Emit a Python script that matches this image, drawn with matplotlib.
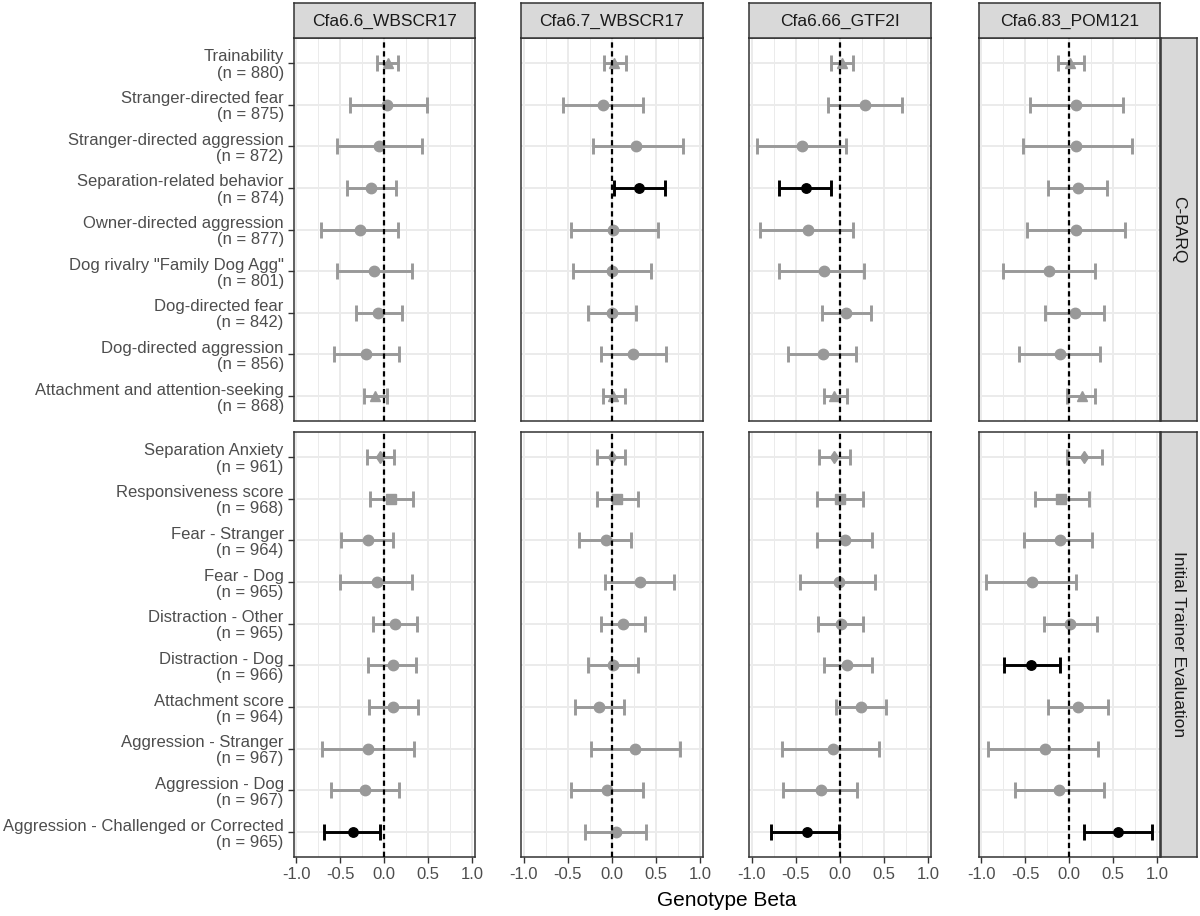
import matplotlib
matplotlib.use("Agg")
import matplotlib.pyplot as plt

plt.rcParams['font.family'] = ['Liberation Sans', 'DejaVu Sans']

loci = ['Cfa6.6_WBSCR17', 'Cfa6.7_WBSCR17', 'Cfa6.66_GTF2I', 'Cfa6.83_POM121']
groups = ['C-BARQ', 'Initial Trainer Evaluation']

# C-BARQ traits
cbarq_traits = ['Trainability', 'Stranger-directed fear', 'Stranger-directed aggression',
                'Separation-related behavior', 'Owner-directed aggression',
                'Dog rivalry "Family Dog Agg"', 'Dog-directed fear',
                'Dog-directed aggression', 'Attachment and attention-seeking']
cbarq_n = [880, 875, 872, 874, 877, 801, 842, 856, 868]
cbarq_marker = ['^', 'o', 'o', 'o', 'o', 'o', 'o', 'o', '^']

# one list per locus
cbarq_beta = [
    [0.04, 0.03, -0.06, -0.15, -0.28, -0.12, -0.07, -0.21, -0.11],
    [0.03, -0.10, 0.28, 0.31, 0.01, 0.00, 0.00, 0.24, 0.01],
    [0.02, 0.29, -0.43, -0.38, -0.36, -0.18, 0.07, -0.19, -0.06],
    [0.01, 0.08, 0.08, 0.10, 0.08, -0.23, 0.06, -0.11, 0.14],
]
cbarq_lo = [
    [-0.08, -0.39, -0.54, -0.42, -0.72, -0.54, -0.32, -0.57, -0.23],
    [-0.09, -0.55, -0.21, 0.03, -0.46, -0.44, -0.27, -0.12, -0.10],
    [-0.10, -0.13, -0.94, -0.69, -0.90, -0.69, -0.20, -0.59, -0.18],
    [-0.13, -0.44, -0.52, -0.24, -0.48, -0.75, -0.27, -0.57, -0.02],
]
cbarq_hi = [
    [0.16, 0.48, 0.43, 0.13, 0.16, 0.31, 0.20, 0.17, 0.03],
    [0.16, 0.36, 0.81, 0.61, 0.52, 0.44, 0.28, 0.62, 0.15],
    [0.15, 0.71, 0.07, -0.10, 0.15, 0.28, 0.35, 0.19, 0.08],
    [0.17, 0.61, 0.71, 0.43, 0.63, 0.29, 0.40, 0.35, 0.29],
]
cbarq_sig = [
    [0, 0, 0, 0, 0, 0, 0, 0, 0],
    [0, 0, 0, 1, 0, 0, 0, 0, 0],
    [0, 0, 0, 1, 0, 0, 0, 0, 0],
    [0, 0, 0, 0, 0, 0, 0, 0, 0],
]

# Initial Trainer Evaluation traits
ite_traits = ['Separation Anxiety', 'Responsiveness score', 'Fear - Stranger', 'Fear - Dog',
              'Distraction - Other', 'Distraction - Dog', 'Attachment score',
              'Aggression - Stranger', 'Aggression - Dog',
              'Aggression - Challenged or Corrected']
ite_n = [961, 968, 964, 965, 965, 966, 964, 967, 967, 965]
ite_marker = ['d', 's', 'o', 'o', 'o', 'o', 'o', 'o', 'o', 'o']

ite_beta = [
    [-0.05, 0.08, -0.18, -0.08, 0.12, 0.10, 0.10, -0.18, -0.22, -0.36],
    [0.00, 0.06, -0.07, 0.32, 0.13, 0.01, -0.14, 0.26, -0.05, 0.05],
    [-0.06, 0.00, 0.06, -0.01, 0.01, 0.08, 0.24, -0.08, -0.21, -0.37],
    [0.17, -0.09, -0.11, -0.42, 0.01, -0.43, 0.10, -0.27, -0.12, 0.55],
]
ite_lo = [
    [-0.20, -0.16, -0.49, -0.50, -0.13, -0.18, -0.17, -0.71, -0.61, -0.68],
    [-0.17, -0.17, -0.37, -0.08, -0.12, -0.27, -0.42, -0.24, -0.46, -0.30],
    [-0.23, -0.26, -0.26, -0.45, -0.25, -0.18, -0.04, -0.65, -0.64, -0.78],
    [-0.03, -0.39, -0.51, -0.94, -0.29, -0.74, -0.24, -0.92, -0.62, 0.17],
]
ite_hi = [
    [0.11, 0.33, 0.10, 0.32, 0.37, 0.36, 0.38, 0.34, 0.17, -0.05],
    [0.15, 0.30, 0.22, 0.71, 0.38, 0.30, 0.14, 0.77, 0.36, 0.39],
    [0.12, 0.26, 0.37, 0.40, 0.26, 0.37, 0.53, 0.45, 0.20, -0.01],
    [0.37, 0.22, 0.26, 0.08, 0.32, -0.10, 0.44, 0.33, 0.40, 0.94],
]
ite_sig = [
    [0, 0, 0, 0, 0, 0, 0, 0, 0, 1],
    [0, 0, 0, 0, 0, 0, 0, 0, 0, 0],
    [0, 0, 0, 0, 0, 0, 0, 0, 0, 1],
    [0, 0, 0, 0, 0, 1, 0, 0, 0, 1],
]

W, H = 1200, 916
fig = plt.figure(figsize=(W / 100, H / 100), dpi=100)

col_left = [293.5, 521, 749, 978.5]
col_w = 181.5
row_top = [38, 432]
row_h = [383, 425]


def frac(x0, y0, w, h):
    return [x0 / W, 1 - (y0 + h) / H, w / W, h / H]


rows = [
    (cbarq_traits, cbarq_n, cbarq_marker, cbarq_beta, cbarq_lo, cbarq_hi, cbarq_sig),
    (ite_traits, ite_n, ite_marker, ite_beta, ite_lo, ite_hi, ite_sig),
]

for r, (traits, ns, marks, beta, lo, hi, sig) in enumerate(rows):
    labels = [f'{t}\n(n = {n})' for t, n in zip(traits, ns)]
    k = len(traits)
    for c in range(4):
        ax = fig.add_axes(frac(col_left[c], row_top[r], col_w, row_h[r]))
        ax.set_xlim(-1.03, 1.03)
        ax.set_ylim(k - 0.4, -0.6)
        ax.set_xticks([-1, -0.5, 0, 0.5, 1])
        ax.set_xticks([-0.75, -0.25, 0.25, 0.75], minor=True)
        ax.set_yticks(range(k))
        ax.grid(which='major', color='#EBEBEB', lw=1.4, zorder=0)
        ax.grid(which='minor', axis='x', color='#EBEBEB', lw=0.7, zorder=0)
        ax.set_axisbelow(True)
        for sp in ax.spines.values():
            sp.set_color('#333333')
            sp.set_linewidth(1.1)
        ax.tick_params(which='major', color='#333333', length=4, width=1,
                       labelcolor='#4D4D4D', labelsize=12, pad=3)
        ax.tick_params(which='minor', length=0)
        if c == 0:
            ax.set_yticklabels(labels)
            for lb in ax.get_yticklabels():
                lb.set_linespacing(1.1)
        else:
            ax.tick_params(axis='y', length=0, labelleft=False)
        if r == 0:
            ax.tick_params(axis='x', length=0, labelbottom=False)
        else:
            ax.set_xticklabels(['-1.0', '-0.5', '0.0', '0.5', '1.0'])

        for i in range(k):
            if sig[c][i]:
                col, ms = 'black', 6.8
            else:
                col, ms = '#999999', 7.5
            if marks[i] == 'd':
                ms = 6.5
            ax.errorbar(beta[c][i], i,
                        xerr=[[beta[c][i] - lo[c][i]], [hi[c][i] - beta[c][i]]],
                        fmt=marks[i], color=col, ms=ms, mec=col, mfc=col,
                        elinewidth=2.1, capsize=5.8, capthick=2.1, zorder=3)
        ax.axvline(0, color='black', lw=1.6, ls=(0, (2.4, 1.6)), zorder=4)

        # top strips
        if r == 0:
            sax = fig.add_axes(frac(col_left[c], 3, col_w, 35))
            sax.set_facecolor('#D9D9D9')
            sax.set_xticks([])
            sax.set_yticks([])
            for sp in sax.spines.values():
                sp.set_color('#333333')
                sp.set_linewidth(1.1)
            sax.text(0.5, 0.48, loci[c], ha='center', va='center',
                     fontsize=12.5, color='#1A1A1A', transform=sax.transAxes)

    # right strips
    rax = fig.add_axes(frac(1161, row_top[r], 36, row_h[r]))
    rax.set_facecolor('#D9D9D9')
    rax.set_xticks([])
    rax.set_yticks([])
    for sp in rax.spines.values():
        sp.set_color('#333333')
        sp.set_linewidth(1.1)
    rax.text(0.5, 0.5, groups[r], ha='center', va='center', rotation=-90,
             fontsize=12.5, color='#1A1A1A', transform=rax.transAxes)

fig.text(727 / W, 1 - 900 / H, 'Genotype Beta', ha='center', va='center',
         fontsize=15, color='black')

fig.savefig('out.png', dpi=100)
